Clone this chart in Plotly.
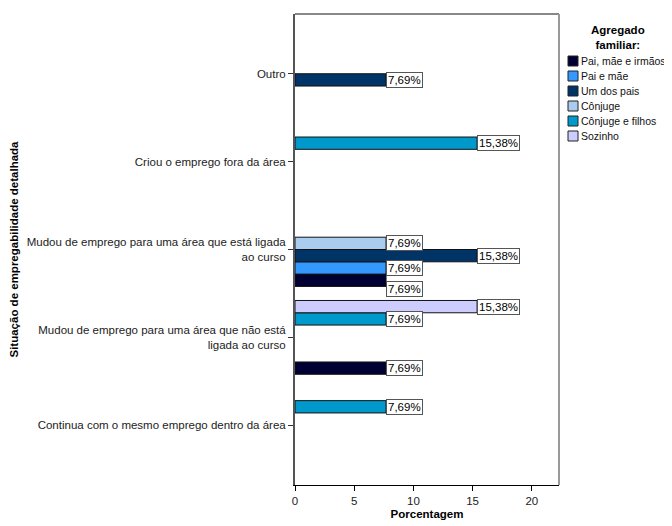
import plotly.graph_objects as go

categories = [
    "Continua com o mesmo emprego dentro da área",
    "Mudou de emprego para uma área que não está<br>ligada ao curso",
    "Mudou de emprego para uma área que está ligada<br>ao curso",
    "Criou o emprego fora da área",
    "Outro",
]
series_names = ["Pai, mãe e irmãos", "Pai e mãe", "Um dos pais", "Cônjuge",
                "Cônjuge e filhos", "Sozinho"]
pai_mae_irmaos = [None, 7.69, 7.69, None, None]
pai_e_mae = [None, None, 7.69, None, None]
um_dos_pais = [None, None, 15.38, None, 7.69]
conjuge = [None, None, 7.69, None, None]
conjuge_filhos = [7.69, 7.69, None, 15.38, None]
sozinho = [None, 15.38, None, None, None]
series_values = [pai_mae_irmaos, pai_e_mae, um_dos_pais, conjuge, conjuge_filhos, sozinho]
colors = ["#000033", "#3399FF", "#003366", "#AACCEE", "#0099CC", "#CCCCFF"]
x_ticks = [0, 5, 10, 15, 20]

FONT = "Arial, Liberation Sans, sans-serif"
bargap = 0.16
n = len(series_names)
w = (1 - bargap) / n

# figure geometry (the page body adds an 8px offset, so the figure is 8px smaller)
W, H = 664, 518
ML, MR, MT, MB = 287, 113, 6, 41
PW, PH = W - ML - MR, H - MT - MB
OFF = 8


def px_x(page_x):
    return (page_x - OFF - ML) / PW


def px_y(page_y):
    return 1 - (page_y - OFF - MT) / PH


fig = go.Figure()
annotations = []
shapes = []
for i, (name, vals, col) in enumerate(zip(series_names, series_values, colors)):
    fig.add_trace(go.Bar(
        y=categories, x=vals, name=name, orientation="h", showlegend=False,
        marker=dict(color=col, line=dict(color="#111111", width=1)),
    ))
    for ci, v in enumerate(vals):
        if v is None:
            continue
        yshift = 0
        # SPSS label collision avoidance for the crowded cluster
        if i == 0 and ci == 2:
            yshift = -9
        annotations.append(dict(
            x=v, y=ci - (1 - bargap) / 2 + (i + 0.5) * w,
            xref="x", yref="y", text=f"{v:.2f}".replace(".", ",") + "%",
            showarrow=False, xanchor="left", yanchor="middle", yshift=yshift,
            bgcolor="white", bordercolor="#555555", borderwidth=1, borderpad=1,
            font=dict(family=FONT, size=11.5, color="black"),
        ))
    # legend entry (SPSS-style, compact)
    cy = 61 + 15 * i
    shapes.append(dict(
        type="rect", xref="paper", yref="paper",
        x0=px_x(568), x1=px_x(578), y0=px_y(cy + 5), y1=px_y(cy - 5),
        fillcolor=col, line=dict(color="#222222", width=1),
    ))
    annotations.append(dict(
        x=px_x(579), y=px_y(cy), xref="paper", yref="paper", text=name,
        showarrow=False, xanchor="left", yanchor="middle",
        font=dict(family=FONT, size=10.5, color="#111111"),
    ))

annotations.append(dict(
    x=px_x(618), y=px_y(38), xref="paper", yref="paper",
    text="<b>Agregado<br>familiar:</b>", showarrow=False,
    xanchor="center", yanchor="middle", align="center",
    font=dict(family=FONT, size=11.5, color="black"),
))

shapes += [
    dict(type="line", xref="paper", yref="paper", x0=0, x1=1, y0=1, y1=1,
         line=dict(color="#888888", width=2)),
    dict(type="line", xref="paper", yref="paper", x0=1, x1=1, y0=0, y1=1,
         line=dict(color="#999999", width=2)),
]

fig.update_layout(
    width=W, height=H,
    margin=dict(l=ML, r=MR, t=MT, b=MB, autoexpand=False),
    paper_bgcolor="white", plot_bgcolor="white",
    barmode="group", bargap=bargap, bargroupgap=0,
    font=dict(family=FONT, size=11.5, color="#222222"),
    annotations=annotations,
    shapes=shapes,
    showlegend=False,
)
fig.update_xaxes(
    range=[0, 22.3], tickvals=x_ticks, ticktext=[str(t) for t in x_ticks],
    showgrid=False, zeroline=False,
    showline=True, linecolor="black", linewidth=1,
    ticks="outside", ticklen=5, tickcolor="black",
    tickfont=dict(family=FONT, size=11.5, color="#222222"),
    title=dict(text="<b>Porcentagem</b>", standoff=4,
               font=dict(family=FONT, size=11.5, color="black")),
)
fig.update_yaxes(
    type="category", categoryorder="array", categoryarray=categories,
    range=[-0.68, 4.68],
    showgrid=False, zeroline=False,
    showline=True, linecolor="#555555", linewidth=2,
    ticks="outside", ticklen=5, tickcolor="#333333",
    tickfont=dict(family=FONT, size=11.5, color="#222222"),
    title=dict(text="<b>Situação de empregabilidade detalhada</b>", standoff=8,
               font=dict(family=FONT, size=11.5, color="black")),
)

fig.write_html("out.html")
